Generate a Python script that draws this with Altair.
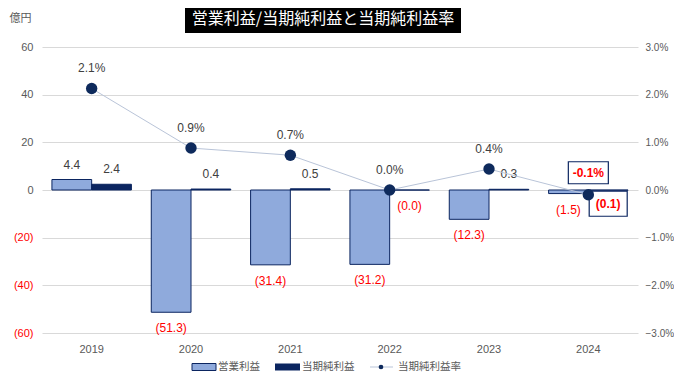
import altair as alt
import pandas as pd

years = ["2019", "2020", "2021", "2022", "2023", "2024"]
op_income = [4.4, -51.3, -31.4, -31.2, -12.3, -1.5]
net_income = [2.4, 0.4, 0.5, -0.02, 0.3, -0.1]
net_margin = [2.13, 0.88, 0.73, 0.0, 0.44, -0.1]
series_names = ["営業利益", "当期純利益"]
title_text = "営業利益/当期純利益と当期純利益率"
unit_text = "億円"
legend_names = ["営業利益", "当期純利益", "当期純利益率"]

OP_FILL = "#8FAADC"
NAVY = "#0B2560"
DOT = "#0E2A5C"
LINE = "#B9C4D8"
GRAY = "#595959"
LBL = "#404040"
RED = "#FF0000"
FONT = "Noto Sans CJK JP"
NUMFONT = "Liberation Sans"

rows = []
for i, y in enumerate(years):
    rows.append({"year": y, "series": series_names[0], "value": op_income[i],
                 "boxed": False})
    rows.append({"year": y, "series": series_names[1], "value": net_income[i],
                 "boxed": y == "2024"})
bars_df = pd.DataFrame(rows)
bars_df["label"] = [
    ("(" + format(abs(v), ".1f") + ")") if v < 0 else format(v, ".1f")
    for v in bars_df["value"]
]

rate_df = pd.DataFrame({"year": years, "rate": net_margin})
rate_df["label"] = [format(round(r, 1) + 0.0, ".1f") + "%" for r in net_margin]
rate_df["boxed"] = [y == "2024" for y in years]

x_enc = alt.X("year:N", sort=years, title=None,
              scale=alt.Scale(paddingInner=0.2, paddingOuter=0.1),
              axis=alt.Axis(labelColor=GRAY, labelFontSize=11, ticks=False,
                            domain=False, grid=False, labelPadding=10, labelAngle=0,
                            labelFont=NUMFONT))
xoff = alt.XOffset("series:N", sort=series_names, scale=alt.Scale(paddingInner=0, paddingOuter=0))

left_axis = alt.Axis(values=[-60, -40, -20, 0, 20, 40, 60],
                     labelExpr="datum.value < 0 ? '(' + abs(datum.value) + ')' : datum.label",
                     labelColor=alt.condition("datum.value < 0", alt.value(RED), alt.value(GRAY)),
                     labelFontSize=11, labelFont=NUMFONT, ticks=False, domain=False,
                     gridColor="#D9D9D9", labelPadding=9,
                     title=unit_text, titleAngle=0, titleX=-22, titleY=-29,
                     titleAlign="center", titleBaseline="middle",
                     titleFontWeight="normal", titleFontSize=11, titleColor=GRAY,
                     titleFont=FONT)
y_left = alt.Y("value:Q", scale=alt.Scale(domain=[-60, 60], nice=False), axis=left_axis)

base_b = alt.Chart(bars_df)
bars = base_b.mark_bar(strokeWidth=1).encode(
    x=x_enc, xOffset=xoff, y=y_left,
    color=alt.Color("series:N", scale=alt.Scale(domain=series_names, range=[OP_FILL, NAVY]), legend=None),
    stroke=alt.value(NAVY),
)
pos_lbl = base_b.transform_filter("datum.value >= 0").mark_text(
    dy=-15, fontSize=12, color=LBL, font=NUMFONT, baseline="middle").encode(
    x=x_enc, xOffset=xoff, y=y_left, text="label:N")
neg_lbl = base_b.transform_filter("datum.value < 0 && !datum.boxed").mark_text(
    dy=16, fontSize=12, color=RED, font=NUMFONT, baseline="middle").encode(
    x=x_enc, xOffset=xoff, y=y_left, text="label:N")
box_net = base_b.transform_filter("datum.boxed").mark_point(
    shape="M-0.95,0.05L0.95,0.05L0.95,1.3L-0.95,1.3Z", size=1600, filled=True,
    fill="white", stroke=NAVY, strokeWidth=1.2, opacity=1).encode(
    x=x_enc, xOffset=xoff, y=y_left)
box_net_lbl = base_b.transform_filter("datum.boxed").mark_text(
    dy=13.5, dx=0, fontSize=12, fontWeight="bold", color=RED, font=NUMFONT,
    baseline="middle").encode(x=x_enc, xOffset=xoff, y=y_left, text="label:N")

left_group = alt.layer(bars, pos_lbl, neg_lbl, box_net, box_net_lbl)

right_axis = alt.Axis(orient="right", values=[-3, -2, -1, 0, 1, 2, 3],
                      labelExpr="format(datum.value, '.1f') + '%'",
                      labelColor=GRAY, labelFontSize=10, labelFont=NUMFONT,
                      ticks=False, domain=False, grid=False, title=None,
                      labelPadding=7)
y_right = alt.Y("rate:Q", scale=alt.Scale(domain=[-3, 3], nice=False), axis=right_axis)
base_r = alt.Chart(rate_df)
line = base_r.mark_line(color=LINE, strokeWidth=1).encode(x=x_enc, y=y_right)
dots = base_r.mark_circle(size=130, color=DOT, opacity=1).encode(x=x_enc, y=y_right)
rate_lbl = base_r.transform_filter("!datum.boxed").mark_text(
    dy=-20, fontSize=12, color=LBL, font=NUMFONT, baseline="middle").encode(
    x=x_enc, y=y_right, text="label:N")
box_rate = base_r.transform_filter("datum.boxed").mark_point(
    shape="M-1,-1.65L1,-1.65L1,-0.55L-1,-0.55Z", size=1600, filled=True,
    fill="white", stroke=NAVY, strokeWidth=1.2, opacity=1).encode(x=x_enc, y=y_right)
box_rate_lbl = base_r.transform_filter("datum.boxed").mark_text(
    dy=-22, fontSize=12, fontWeight="bold", color=RED, font=NUMFONT,
    baseline="middle").encode(x=x_enc, y=y_right, text="label:N")

right_group = alt.layer(line, box_rate, dots, rate_lbl, box_rate_lbl)

# title box and legend (decorations)
deco_df = pd.DataFrame({"t": [title_text]})
deco = alt.Chart(deco_df)
title_bg = deco.mark_rect(color="black").encode(
    x=alt.value(143), x2=alt.value(419), y=alt.value(-42), y2=alt.value(-14))
title_tx = deco.mark_text(color="white", fontSize=16, font=FONT, baseline="middle",
                          align="center").encode(
    x=alt.value(281), y=alt.value(-28), text="t:N")

LEG_Y = 320
leg_df = pd.DataFrame({"n": legend_names})
leg = alt.Chart(leg_df)
sw1 = leg.transform_filter(alt.datum.n == legend_names[0]).mark_rect(
    fill=OP_FILL, stroke=NAVY, strokeWidth=1).encode(
    x=alt.value(150), x2=alt.value(174), y=alt.value(LEG_Y - 3.5), y2=alt.value(LEG_Y + 3.5))
sw2 = leg.transform_filter(alt.datum.n == legend_names[1]).mark_rect(
    fill=NAVY).encode(
    x=alt.value(233), x2=alt.value(258), y=alt.value(LEG_Y - 3.5), y2=alt.value(LEG_Y + 3.5))
lline = leg.transform_filter(alt.datum.n == legend_names[2]).mark_rect(
    fill=LINE).encode(
    x=alt.value(328), x2=alt.value(351), y=alt.value(LEG_Y - 0.5), y2=alt.value(LEG_Y + 0.5))
ldot = leg.transform_filter(alt.datum.n == legend_names[2]).mark_circle(
    color=DOT, size=22, opacity=1).encode(x=alt.value(339), y=alt.value(LEG_Y))
leg_x = [176, 260, 356]
ltx = [
    leg.transform_filter(alt.datum.n == name).mark_text(
        fontSize=10.5, color=GRAY, font=FONT, align="left", baseline="middle").encode(
        x=alt.value(px), y=alt.value(LEG_Y), text="n:N")
    for name, px in zip(legend_names, leg_x)
]

chart = (
    alt.layer(left_group, right_group, title_bg, title_tx, sw1, sw2, lline, ldot, *ltx)
    .resolve_scale(y="independent")
    .properties(
        width=596, height=286,
        padding={"left": 34, "top": 39, "right": 36, "bottom": 40},
        autosize=alt.AutoSizeParams(type="none"),
    )
    .configure(font=FONT)
    .configure_view(stroke=None, strokeWidth=0)
    .configure_axis(domain=False)
    .configure_axisX(grid=False, domain=False)
)

chart.save("out.html", embed_options={"renderer": "svg", "actions": False})
